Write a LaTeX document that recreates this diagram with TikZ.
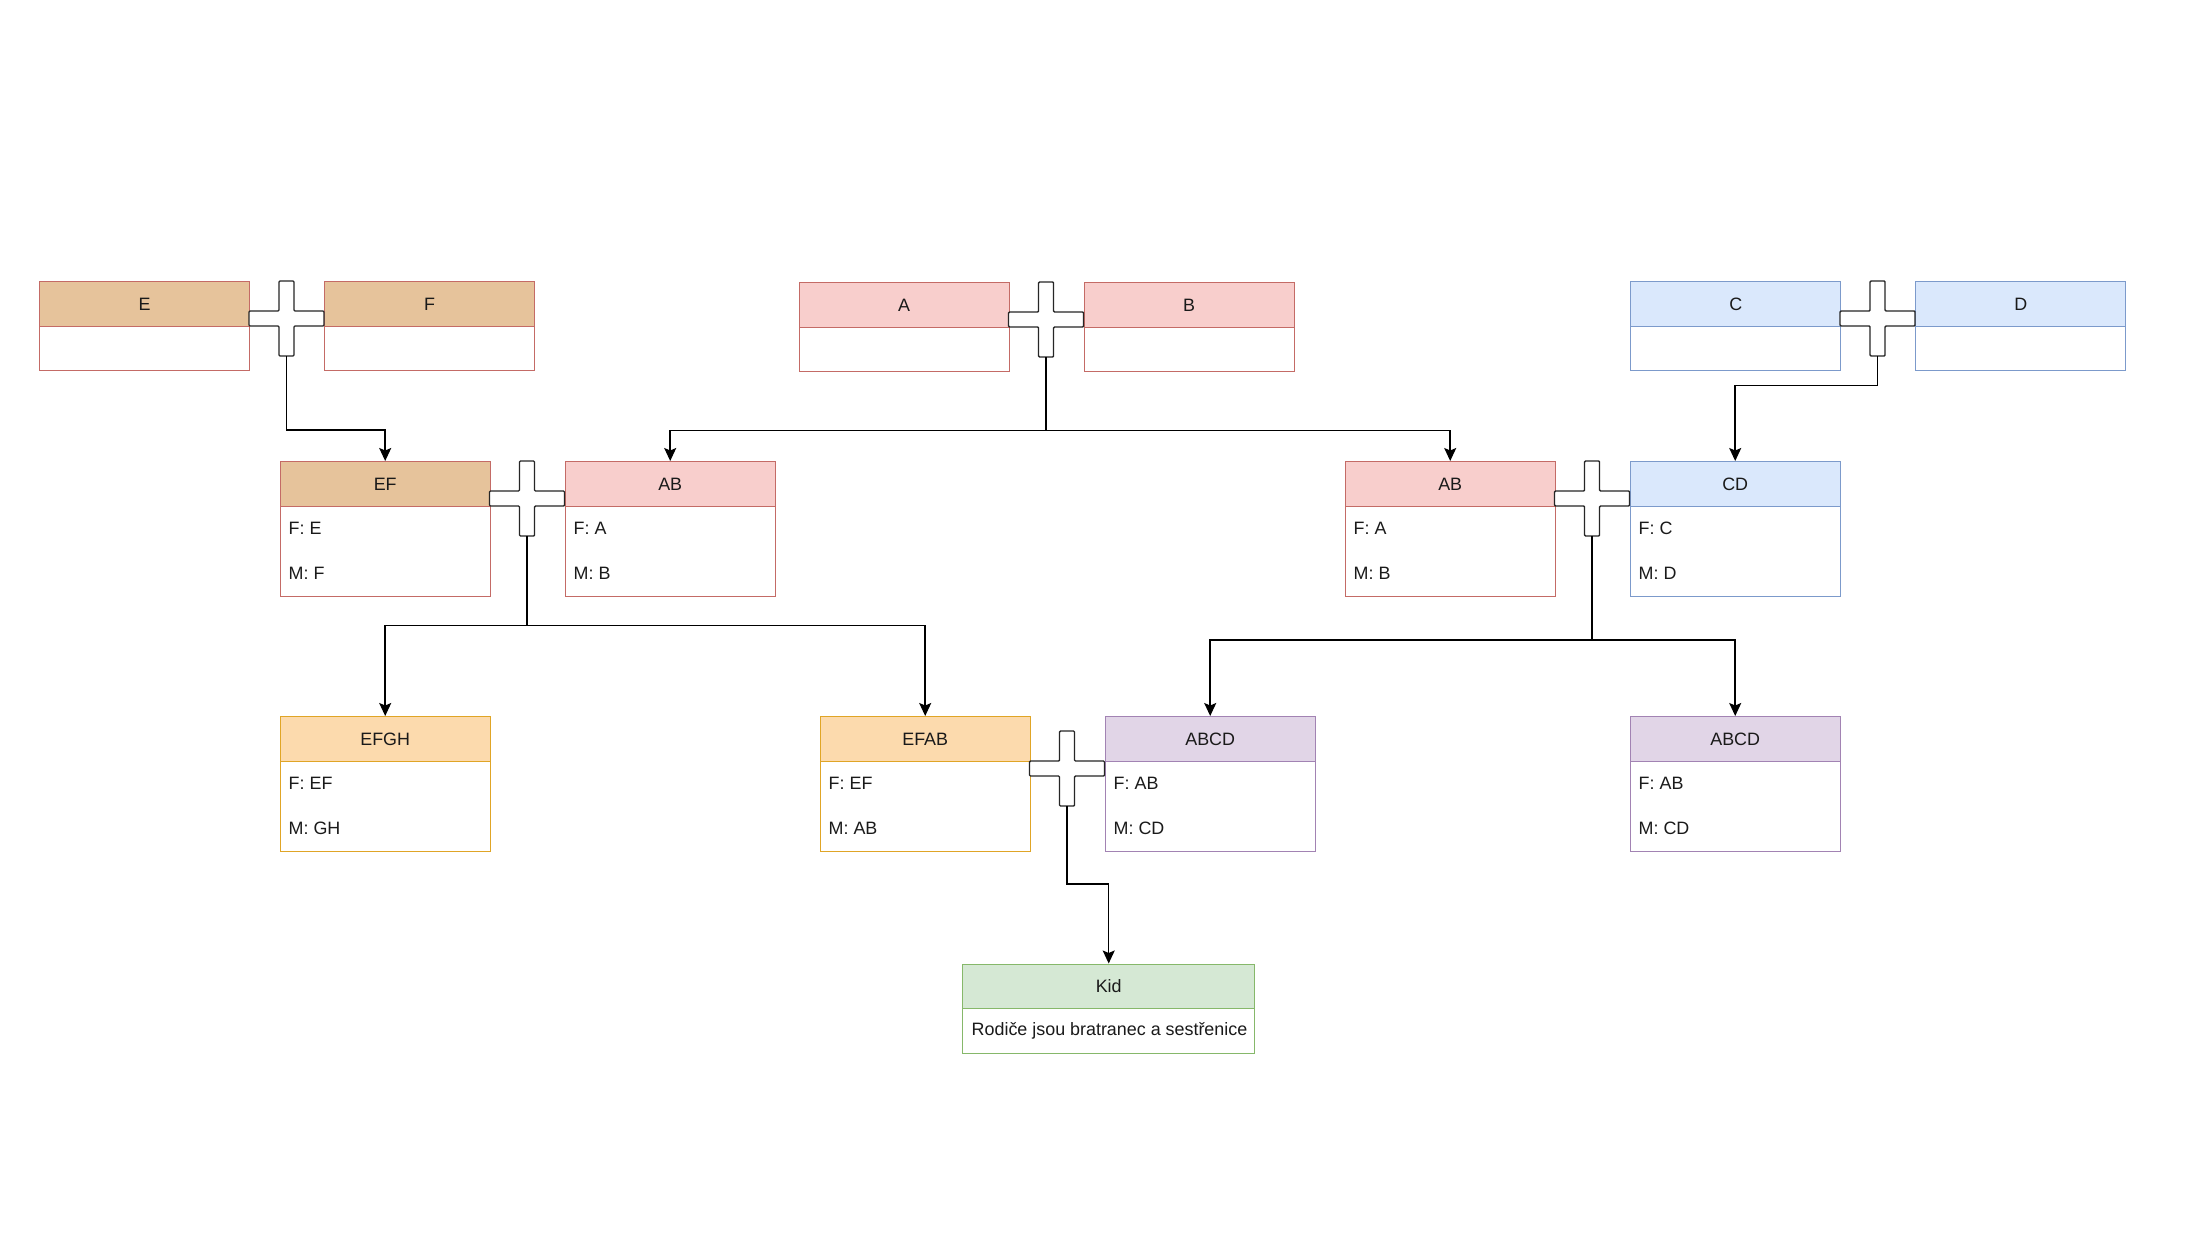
\documentclass[tikz,border=0pt]{standalone}
\usepackage{fontspec}
\setmainfont{Liberation Sans}
\usetikzlibrary{arrows.meta,calc}
\definecolor{txt}{HTML}{1A1A1A}
\definecolor{tanF}{HTML}{E6C39B}
\definecolor{redS}{HTML}{C46B66}
\definecolor{pinkF}{HTML}{F8CECC}
\definecolor{blueF}{HTML}{DAE8FC}
\definecolor{blueS}{HTML}{7C9ACB}
\definecolor{orF}{HTML}{FCDAAD}
\definecolor{orS}{HTML}{E0A526}
\definecolor{purF}{HTML}{E1D5E7}
\definecolor{purS}{HTML}{A283B3}
\definecolor{grF}{HTML}{D5E8D4}
\definecolor{grS}{HTML}{86B86A}
\tikzset{
  every node/.style={font=\fontsize{17.9}{21.5}\selectfont, text=txt},
  card/.style={line width=1.4pt, fill=white, minimum width=210pt, inner sep=0pt, anchor=north west},
  head/.style={line width=1.4pt, minimum width=210pt, minimum height=44.5pt, inner sep=0pt, anchor=north west},
  rowtxt/.style={anchor=west, inner sep=0pt},
  conn/.style={draw=black, line width=1.5pt, -{Stealth[length=13pt,width=12pt,inset=2.5pt]}},
  plusshape/.style={draw=black!85, fill=white, line width=1.4pt, rounded corners=1pt},
  card-tan/.style={draw=redS}, head-tan/.style={draw=redS, fill=tanF},
  card-pink/.style={draw=redS}, head-pink/.style={draw=redS, fill=pinkF},
  card-blue/.style={draw=blueS}, head-blue/.style={draw=blueS, fill=blueF},
  card-or/.style={draw=orS}, head-or/.style={draw=orS, fill=orF},
  card-pur/.style={draw=purS}, head-pur/.style={draw=purS, fill=purF},
  card-gr/.style={draw=grS}, head-gr/.style={draw=grS, fill=grF},
}
% name, left, top, title, colour, height
\newcommand{\famcard}[6]{%
  \node[card, card-#5, minimum height=#6pt] (#1) at (#2,#3) {};
  \node[head, head-#5] (#1h) at (#2,#3) {#4};
}
% name of bottom coordinate, cx, cy
\newcommand{\marriage}[3]{%
  \begin{scope}[shift={(#2,#3)}]
    \draw[plusshape] (-7.5,-37.5) -- (7.5,-37.5) -- (7.5,-7.5) -- (37.5,-7.5) -- (37.5,7.5)
      -- (7.5,7.5) -- (7.5,37.5) -- (-7.5,37.5) -- (-7.5,7.5) -- (-37.5,7.5) -- (-37.5,-7.5)
      -- (-7.5,-7.5) -- cycle;
    \coordinate (#1) at (0,37.5);
  \end{scope}
}
\newcommand{\rows}[3]{%
  \node[rowtxt] (#1f) at ([xshift=9pt,yshift=-67pt]#1.north west) {#2};
  \node[rowtxt] (#1m) at ([xshift=9pt,yshift=-112pt]#1.north west) {#3};
}
\begin{document}
\begin{tikzpicture}[x=1pt,y=-1pt]
\useasboundingbox[fill=white] (0,0) rectangle (2205,1241);

% row 1
\famcard{E}{39}{281}{E}{tan}{89}
\famcard{F}{324}{281}{F}{tan}{89}
\famcard{A}{798.5}{282}{A}{pink}{89}
\famcard{B}{1083.5}{282}{B}{pink}{89}
\famcard{C}{1630}{281}{C}{blue}{89}
\famcard{D}{1915}{281}{D}{blue}{89}

% row 2
\famcard{EF}{279.5}{461}{EF}{tan}{134.5}
\rows{EF}{F: E}{M: F}
\famcard{ABl}{564.5}{461}{AB}{pink}{134.5}
\rows{ABl}{F: A}{M: B}
\famcard{ABr}{1344.5}{461}{AB}{pink}{134.5}
\rows{ABr}{F: A}{M: B}
\famcard{CD}{1629.5}{461}{CD}{blue}{134.5}
\rows{CD}{F: C}{M: D}

% row 3
\famcard{EFGH}{279.5}{716}{EFGH}{or}{134.5}
\rows{EFGH}{F: EF}{M: GH}
\famcard{EFAB}{819.5}{716}{EFAB}{or}{134.5}
\rows{EFAB}{F: EF}{M: AB}
\famcard{ABCDl}{1104.5}{716}{ABCD}{pur}{134.5}
\rows{ABCDl}{F: AB}{M: CD}
\famcard{ABCDr}{1629.5}{716}{ABCD}{pur}{134.5}
\rows{ABCDr}{F: AB}{M: CD}

% kid
\node[card, draw=grS, minimum width=292pt, minimum height=89.5pt] (Kid) at (962,963.5) {};
\node[head, head-gr, minimum width=292pt] (Kidh) at (962,963.5) {Kid};
\node[rowtxt] (Kidt) at ([xshift=9.5pt,yshift=-67pt]Kid.north west) {Rodiče jsou bratranec a sestřenice};

% marriages
\marriage{xEF}{286.5}{318.5}
\marriage{xAB}{1046}{319.5}
\marriage{xCD}{1877.5}{318.5}
\marriage{xEFAB}{527}{498.5}
\marriage{xABCD}{1592}{498.5}
\marriage{xKid}{1067}{768.5}

% junction levels
\coordinate (jEF) at (0,430);
\coordinate (jAB) at (0,430.5);
\coordinate (jCD) at (0,385.5);
\coordinate (jEFAB) at (0,625.5);
\coordinate (jABCD) at (0,640);
\coordinate (jKid) at (0,884);

% connectors
\draw[conn] (xEF) -- (xEF |- jEF) -| (EF.north);
\draw[conn] (xAB) -- (xAB |- jAB) -| (ABl.north);
\draw[conn] (xAB |- jAB) -| (ABr.north);
\draw[conn] (xCD) -- (xCD |- jCD) -| (CD.north);
\draw[conn] (xEFAB) -- (xEFAB |- jEFAB) -| (EFGH.north);
\draw[conn] (xEFAB |- jEFAB) -| (EFAB.north);
\draw[conn] (xABCD) -- (xABCD |- jABCD) -| (ABCDl.north);
\draw[conn] (xABCD |- jABCD) -| (ABCDr.north);
\draw[conn] (xKid) -- (xKid |- jKid) -| (Kid.north);
\end{tikzpicture}
\end{document}
